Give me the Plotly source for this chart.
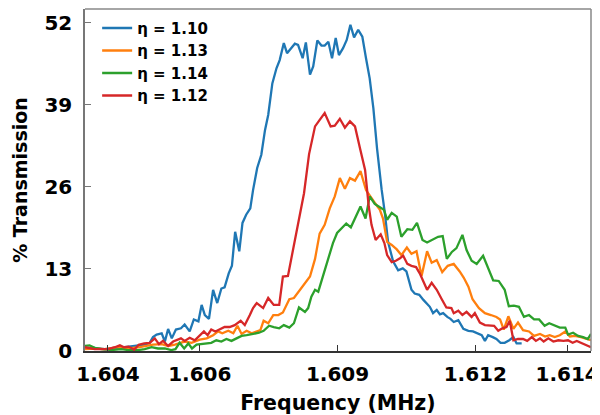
import plotly.graph_objects as go

# ---- data (frequency in MHz, transmission in %) ----
freq_110 = [1.60350, 1.60371, 1.60393, 1.60415, 1.60437, 1.60458, 1.60480, 1.60491, 1.60498, 1.60506,
            1.60517, 1.60524, 1.60531, 1.60539, 1.60548, 1.60559, 1.60567, 1.60578, 1.60587, 1.60597,
            1.60604, 1.60611, 1.60620, 1.60629, 1.60638, 1.60647, 1.60654, 1.60663, 1.60670, 1.60677,
            1.60686, 1.60693, 1.60701, 1.60710, 1.60716, 1.60725, 1.60734, 1.60742, 1.60749, 1.60758,
            1.60767, 1.60774, 1.60783, 1.60790, 1.60800, 1.60807, 1.60814, 1.60824, 1.60831, 1.60840,
            1.60847, 1.60856, 1.60865, 1.60872, 1.60880, 1.60888, 1.60896, 1.60903, 1.60912, 1.60920,
            1.60928, 1.60936, 1.60945, 1.60954, 1.60962, 1.60970, 1.60978, 1.60986, 1.60996, 1.61003,
            1.61010, 1.61021, 1.61032, 1.61042, 1.61050, 1.61061, 1.61068, 1.61078, 1.61087, 1.61094,
            1.61101, 1.61108, 1.61116, 1.61123, 1.61130, 1.61139, 1.61146, 1.61153, 1.61163, 1.61174,
            1.61185, 1.61195, 1.61206, 1.61214, 1.61221, 1.61228, 1.61238, 1.61246, 1.61255, 1.61264,
            1.61274, 1.61283, 1.61290, 1.61301]
trans_110 = [0.4, 0.5, 0.3, 0.4, 0.6, 0.8, 1.0, 1.3, 2.2, 2.6,
             2.8, 1.5, 3.5, 2.0, 3.4, 3.6, 4.2, 3.1, 5.0, 4.7,
             7.3, 5.7, 5.1, 9.7, 7.6, 9.9, 10.1, 12.3, 13.5, 18.9,
             15.8, 20.3, 21.6, 22.6, 25.5, 29.0, 31.1, 35.0, 37.4, 42.4,
             44.8, 46.1, 48.8, 47.2, 48.0, 48.7, 48.5, 46.4, 48.9, 43.8,
             45.1, 49.2, 48.4, 48.4, 49.0, 46.4, 49.6, 46.9, 48.0, 49.3,
             51.7, 49.7, 50.9, 49.8, 46.4, 43.2, 38.5, 32.1, 25.6, 21.9,
             17.3, 14.2, 12.8, 13.1, 12.6, 9.7, 9.1, 8.9, 8.1, 7.6,
             7.0, 6.0, 6.5, 5.8, 6.0, 5.4, 5.1, 4.6, 4.9, 3.5,
             3.2, 3.1, 2.8, 2.5, 1.6, 2.5, 2.2, 1.9, 1.3, 1.3,
             1.7, 2.2, 1.2, 1.2]

freq_113 = [1.60350, 1.60371, 1.60393, 1.60422, 1.60444, 1.60469, 1.60498, 1.60517, 1.60531, 1.60546,
            1.60567, 1.60582, 1.60600, 1.60615, 1.60629, 1.60640, 1.60649, 1.60662, 1.60673, 1.60682,
            1.60691, 1.60702, 1.60713, 1.60724, 1.60732, 1.60739, 1.60749, 1.60760, 1.60771, 1.60781,
            1.60795, 1.60805, 1.60816, 1.60829, 1.60840, 1.60851, 1.60861, 1.60872, 1.60883, 1.60894,
            1.60905, 1.60916, 1.60927, 1.60938, 1.60950, 1.60962, 1.60970, 1.60981, 1.60992, 1.60999,
            1.61008, 1.61018, 1.61029, 1.61039, 1.61051, 1.61061, 1.61072, 1.61083, 1.61095, 1.61105,
            1.61116, 1.61128, 1.61140, 1.61153, 1.61166, 1.61175, 1.61185, 1.61194, 1.61208, 1.61221,
            1.61234, 1.61246, 1.61254, 1.61262, 1.61272, 1.61283, 1.61293, 1.61304, 1.61317, 1.61328,
            1.61341, 1.61352, 1.61362, 1.61373, 1.61384, 1.61396, 1.61406, 1.61417, 1.61430, 1.61442,
            1.61452]
trans_113 = [0.3, 0.4, 0.3, 0.6, 0.4, 0.6, 1.0, 1.1, 0.8, 1.0,
             1.5, 1.3, 1.8, 2.0, 2.5, 3.1, 2.8, 3.2, 2.8, 4.0,
             2.7, 3.2, 2.8, 3.1, 3.3, 4.8, 4.4, 5.7, 5.7, 6.1,
             8.2, 8.4, 9.5, 10.7, 11.8, 14.6, 18.6, 20.0, 22.6, 24.5,
             27.4, 25.7, 27.4, 27.0, 28.5, 25.5, 24.6, 23.5, 22.4, 21.0,
             17.3, 16.8, 16.1, 15.2, 16.4, 15.4, 15.8, 11.9, 15.8, 14.0,
             14.4, 12.5, 13.5, 13.8, 12.6, 11.6, 10.2, 8.2, 6.8, 6.0,
             5.7, 5.4, 5.0, 3.4, 5.5, 3.5, 4.5, 3.3, 3.1, 2.4,
             2.7, 2.3, 2.5, 2.2, 2.5, 3.1, 2.3, 2.4, 2.2, 1.9,
             1.7]

freq_114 = [1.60350, 1.60360, 1.60371, 1.60386, 1.60408, 1.60429, 1.60444, 1.60466, 1.60480, 1.60495,
            1.60509, 1.60524, 1.60538, 1.60547, 1.60556, 1.60566, 1.60575, 1.60583, 1.60593, 1.60604,
            1.60615, 1.60625, 1.60636, 1.60647, 1.60658, 1.60669, 1.60680, 1.60691, 1.60702, 1.60716,
            1.60729, 1.60739, 1.60751, 1.60761, 1.60773, 1.60783, 1.60795, 1.60805, 1.60816, 1.60829,
            1.60836, 1.60843, 1.60851, 1.60858, 1.60869, 1.60880, 1.60890, 1.60899, 1.60909, 1.60919,
            1.60929, 1.60940, 1.60950, 1.60961, 1.60970, 1.60981, 1.60992, 1.61001, 1.61008, 1.61018,
            1.61029, 1.61039, 1.61052, 1.61063, 1.61073, 1.61085, 1.61095, 1.61107, 1.61119, 1.61129,
            1.61138, 1.61149, 1.61159, 1.61172, 1.61181, 1.61192, 1.61203, 1.61217, 1.61228, 1.61239,
            1.61251, 1.61264, 1.61273, 1.61284, 1.61295, 1.61306, 1.61317, 1.61328, 1.61339, 1.61351,
            1.61361, 1.61373, 1.61384, 1.61396, 1.61402, 1.61413, 1.61424, 1.61435, 1.61445, 1.61452]
trans_114 = [0.8, 0.9, 0.5, 0.3, 0.15, 0.3, 0.15, 0.15, 0.3, 0.6,
             0.4, 0.4, 0.15, 0.3, 1.3, 0.4, 1.2, 0.4, 1.0, 1.1,
             1.2, 1.3, 1.7, 1.5, 1.9, 1.6, 2.0, 2.4, 2.5, 2.7,
             2.9, 3.2, 4.0, 3.8, 3.6, 4.1, 3.7, 4.4, 6.9, 6.2,
             6.8, 8.6, 9.7, 9.4, 12.0, 14.4, 17.1, 18.7, 19.5, 20.2,
             19.6, 21.3, 22.9, 21.0, 24.5, 23.3, 22.8, 22.4, 20.8, 21.9,
             21.3, 18.1, 19.3, 19.2, 20.3, 17.6, 17.2, 17.6, 18.1, 18.2,
             14.6, 15.7, 16.3, 18.4, 16.0, 14.3, 13.8, 15.1, 13.0, 11.2,
             11.1, 9.7, 7.1, 7.2, 7.0, 5.4, 5.7, 5.0, 5.0, 4.0,
             4.4, 4.0, 3.7, 3.7, 2.6, 2.9, 2.4, 2.2, 1.9, 2.7]

freq_112 = [1.60350, 1.60360, 1.60371, 1.60386, 1.60400, 1.60415, 1.60426, 1.60435, 1.60445, 1.60457,
            1.60467, 1.60479, 1.60491, 1.60502, 1.60511, 1.60520, 1.60531, 1.60542, 1.60559, 1.60567,
            1.60578, 1.60589, 1.60600, 1.60609, 1.60617, 1.60625, 1.60634, 1.60644, 1.60654, 1.60665,
            1.60676, 1.60689, 1.60698, 1.60709, 1.60716, 1.60724, 1.60738, 1.60749, 1.60761, 1.60773,
            1.60781, 1.60792, 1.60803, 1.60816, 1.60827, 1.60838, 1.60851, 1.60860, 1.60872, 1.60885,
            1.60894, 1.60905, 1.60916, 1.60927, 1.60938, 1.60949, 1.60960, 1.60968, 1.60974, 1.60983,
            1.60994, 1.61002, 1.61008, 1.61018, 1.61027, 1.61036, 1.61043, 1.61052, 1.61061, 1.61071,
            1.61079, 1.61087, 1.61095, 1.61105, 1.61116, 1.61127, 1.61137, 1.61148, 1.61153, 1.61163,
            1.61172, 1.61181, 1.61192, 1.61199, 1.61210, 1.61221, 1.61232, 1.61241, 1.61250, 1.61259,
            1.61268, 1.61275, 1.61283, 1.61293, 1.61304, 1.61313, 1.61323, 1.61332, 1.61341, 1.61349,
            1.61359, 1.61370, 1.61381, 1.61392, 1.61402, 1.61412, 1.61421, 1.61432, 1.61442, 1.61452]
trans_112 = [0.6, 0.4, 0.3, 0.3, 0.3, 0.6, 0.9, 0.6, 0.7, 0.2,
             1.0, 1.2, 1.3, 2.0, 1.1, 1.6, 0.8, 1.5, 2.0, 1.6,
             2.1, 1.7, 2.5, 3.1, 2.5, 3.4, 3.1, 3.4, 3.8, 3.8,
             4.1, 4.8, 4.1, 5.7, 6.8, 7.6, 6.8, 8.4, 7.3, 7.3,
             11.8, 11.9, 16.0, 20.8, 25.0, 31.2, 35.6, 36.5, 37.7, 35.6,
             35.7, 36.8, 35.4, 36.4, 35.6, 32.1, 28.7, 22.9, 20.0, 17.6,
             18.5, 17.1, 15.2, 14.1, 14.3, 14.7, 15.1, 13.8, 13.5, 13.3,
             12.3, 11.0, 9.7, 10.8, 9.7, 8.2, 6.9, 6.8, 6.0, 6.4,
             5.7, 6.2, 5.4, 6.0, 4.5, 4.1, 4.1, 4.0, 3.2, 3.6,
             3.8, 4.8, 1.7, 1.9, 1.9, 1.6, 2.2, 1.6, 2.0, 1.5,
             2.0, 1.5, 1.7, 1.6, 1.7, 1.3, 1.6, 1.2, 0.95, 0.6]

series_labels = ["η = 1.10", "η = 1.13", "η = 1.14", "η = 1.12"]
series_colors = ["#1f77b4", "#ff7f0e", "#2ca02c", "#d62728"]

x_tick_vals = [1.604, 1.606, 1.609, 1.612, 1.614]
x_tick_text = ["1.604", "1.606", "1.609", "1.612", "1.614"]
y_tick_vals = [0, 13, 26, 39, 52]

FONT = "DejaVu Sans"

fig = go.Figure()
for xs, ys, name, col in zip([freq_110, freq_113, freq_114, freq_112],
                             [trans_110, trans_113, trans_114, trans_112],
                             series_labels, series_colors):
    fig.add_trace(go.Scatter(x=xs, y=ys, mode="lines", name=name,
                             line=dict(color=col, width=2.3)))

# page body has an 8px margin, so the figure is 592x407 and offset by 8px
fig.update_layout(
    width=592, height=407,
    margin=dict(l=77, r=9, t=1, b=64),
    paper_bgcolor="white", plot_bgcolor="white",
    font=dict(family=FONT, color="black"),
    showlegend=True,
    legend=dict(x=0.024, y=0.992, xanchor="left", yanchor="top",
                bgcolor="rgba(255,255,255,0)",
                font=dict(family=FONT, size=15, weight="bold", color="black"),
                tracegroupgap=3),
)
fig.update_xaxes(
    range=[1.60350, 1.61452],
    tickvals=x_tick_vals, ticktext=x_tick_text,
    ticks="inside", ticklen=6, tickcolor="#333", tickwidth=1,
    tickfont=dict(family=FONT, size=20, weight="bold", color="black"),
    ticklabelstandoff=4,
    showgrid=False, zeroline=False, automargin=False,
    showline=True, linecolor="#333", linewidth=1.5, mirror=False,
    title=dict(text="Frequency (MHz)", font=dict(family=FONT, size=20.5, weight="bold", color="black"),
               standoff=19),
)
fig.update_yaxes(
    range=[0, 54.2],
    tickvals=y_tick_vals,
    ticks="inside", ticklen=6, tickcolor="#777", tickwidth=1,
    tickfont=dict(family=FONT, size=20, weight="bold", color="black"),
    ticklabelstandoff=7,
    showgrid=False, zeroline=False, automargin=False,
    showline=True, linecolor="#777", linewidth=1.5, mirror=False,
    title=dict(text="% Transmission", font=dict(family=FONT, size=19, weight="bold", color="black"),
               standoff=12),
)
# light gray top/right frame
fig.add_shape(type="line", xref="paper", yref="paper", x0=0, x1=1, y0=1, y1=1,
              line=dict(color="#888", width=1.5))
fig.add_shape(type="line", xref="paper", yref="paper", x0=1, x1=1, y0=0, y1=1,
              line=dict(color="#888", width=1.5))

fig.write_html("out.html")
